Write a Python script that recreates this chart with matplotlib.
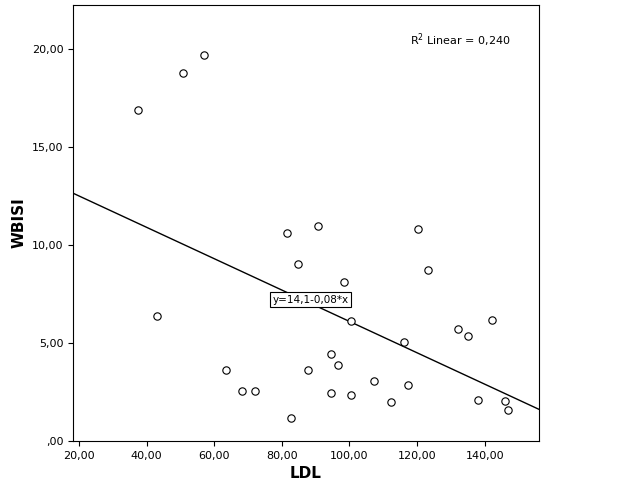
import matplotlib
matplotlib.use("Agg")
import matplotlib.pyplot as plt
import numpy as np

ldl = [37.4, 50.7, 56.9, 43.1, 63.4, 68.1, 72.0, 81.5, 84.9, 82.8, 87.7, 90.6, 94.5, 94.5,
       96.6, 98.4, 100.5, 100.5, 107.3, 112.2, 116.1, 117.3, 120.2, 123.2, 132.1, 135.0,
       142.1, 138.0, 145.9, 146.8]
wbisi = [16.9, 18.8, 19.7, 6.38, 3.62, 2.55, 2.55, 10.6, 9.03, 1.17, 3.62, 10.97, 4.44, 2.45,
         3.88, 8.11, 6.12, 2.35, 3.06, 1.99, 5.05, 2.86, 10.8, 8.72, 5.71, 5.36,
         6.17, 2.09, 2.04, 1.58]
intercept, slope = 14.1, -0.08
xticks = [20, 40, 60, 80, 100, 120, 140]
yticks = [0, 5, 10, 15, 20]

fig = plt.figure(figsize=(6.26, 5.01), dpi=100)
ax = fig.add_axes([0.1166, 0.1198, 0.744, 0.870])
xlim = (18.2, 156.0)
ax.set_xlim(*xlim)
ax.set_ylim(0, 22.24)
ax.scatter(ldl, wbisi, s=28, facecolors='white', edgecolors='black', linewidths=0.8, zorder=3)
xs = np.array(xlim)
ax.plot(xs, intercept + slope * xs, color='black', lw=1)
ax.set_xticks(xticks)
ax.set_xticklabels([f"{v:.2f}".replace('.', ',') for v in xticks], fontsize=8)
ax.set_yticks(yticks)
ax.set_yticklabels([",00" if v == 0 else f"{v:.2f}".replace('.', ',') for v in yticks], fontsize=8)
ax.set_xlabel("LDL", fontsize=11, fontweight='bold')
ax.set_ylabel("WBISI", fontsize=11, fontweight='bold')
ax.text(88.5, 7.2, "y=14,1-0,08*x", fontsize=7.5, ha='center', va='center',
        bbox=dict(facecolor='white', edgecolor='black', boxstyle='square,pad=0.25', lw=0.8))
ax.text(0.94, 0.92, r"R$^2$ Linear = 0,240", transform=ax.transAxes, fontsize=8, ha='right', va='center')
fig.savefig("out.png", dpi=100)
